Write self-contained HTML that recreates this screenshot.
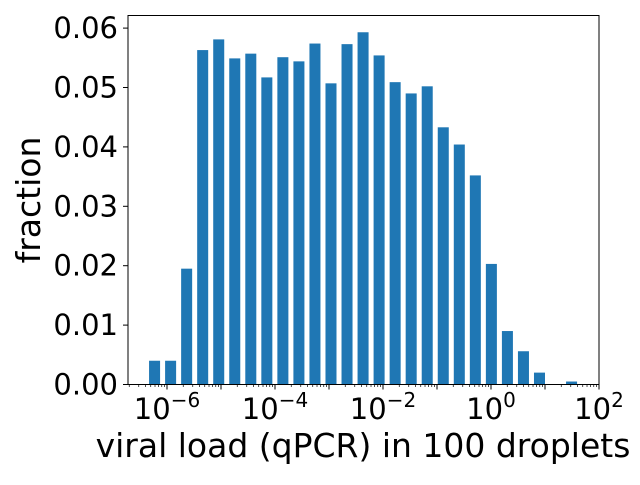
<!DOCTYPE html>
<html><head><meta charset="utf-8"><style>
html,body{margin:0;padding:0;background:#fff;}
svg text{font-family:"DejaVu Sans","Liberation Sans",sans-serif;fill:#000;}
</style></head><body>
<svg id="chart" width="640" height="480" viewBox="0 0 640 480">
<g id="bars"></g>
<g id="axes"></g>
</svg>
<script>
const binCentersLog = [-6.23,-5.933,-5.636,-5.339,-5.042,-4.745,-4.448,-4.151,-3.854,-3.557,-3.26,-2.963,-2.666,-2.369,-2.072,-1.775,-1.478,-1.181,-0.884,-0.587,-0.29,0.007,0.304,0.601,0.898,1.195,1.492];
const fractions = [0.0040,0.0040,0.0195,0.0563,0.0581,0.0549,0.0557,0.0517,0.0551,0.0544,0.0574,0.0507,0.0573,0.0593,0.0554,0.0509,0.0490,0.0502,0.0433,0.0404,0.0352,0.0203,0.0090,0.0056,0.0020,0.0000,0.0005];
const yTicks = [0,0.01,0.02,0.03,0.04,0.05,0.06];
const yTickLabels = ["0.00","0.01","0.02","0.03","0.04","0.05","0.06"];
const xMajorExp = [-6,-4,-2,0,2];

const NS="http://www.w3.org/2000/svg";
const L=128,R=599,T=15.5,B=384.5;
const xMin=-6.722,xMax=2;
const yMax=(B-T)/5940;
const xs=v=>L+(v-xMin)/(xMax-xMin)*(R-L);
const ys=v=>B-v/yMax*(B-T);
function mk(tag,attrs,parent){const e=document.createElementNS(NS,tag);for(const k in attrs)e.setAttribute(k,attrs[k]);parent.appendChild(e);return e;}
const bars=document.getElementById('bars'),axes=document.getElementById('axes');
const bw=0.204;
binCentersLog.forEach((c,i)=>{
  const x0=xs(c-bw/2),x1=xs(c+bw/2);
  const r=mk('rect',{x:x0,y:ys(fractions[i]),width:x1-x0,height:B-ys(fractions[i]),fill:'#1f77b4'},bars);
  
  
});
const frame=mk('rect',{x:L,y:T,width:R-L,height:B-T,fill:'none',stroke:'#000','stroke-width':1},axes);


yTicks.forEach((v,i)=>{
  const y=ys(v);
  mk('line',{x1:L-5,x2:L,y1:y,y2:y,stroke:'#000'},axes);
  const t=mk('text',{x:L-10,y:y+10,'text-anchor':'end','font-size':29},axes);
  t.textContent=yTickLabels[i];
  
  
});
for(let e=-7;e<2;e++){for(let m=1;m<10;m++){const v=e+Math.log10(m);if(v<xMin||v>xMax)continue;
  const x=xs(v);mk('line',{x1:x,x2:x,y1:B,y2:B+(m===1?5:2.5),stroke:'#000','stroke-width':m===1?1:0.7},axes);}}
mk('line',{x1:xs(2),x2:xs(2),y1:B,y2:B+5,stroke:'#000'},axes);
xMajorExp.forEach(e=>{
  const t=mk('text',{x:xs(e),y:419,'text-anchor':'middle','font-size':29},axes);
  
  
  const a=document.createElementNS(NS,'tspan');a.textContent='10';t.appendChild(a);
  const s=document.createElementNS(NS,'tspan');s.setAttribute('dy','-12');s.setAttribute('font-size','20');s.textContent=(e<0?'\u2212'+(-e):''+e);t.appendChild(s);
});
const xl=mk('text',{x:363,y:457,'text-anchor':'middle','font-size':33},axes);
xl.textContent='viral load (qPCR) in 100 droplets';


const yl=mk('text',{x:0,y:0,'text-anchor':'middle','font-size':33,transform:'translate(40,200) rotate(-90)'},axes);
yl.textContent='fraction';


</script>
</body></html>
